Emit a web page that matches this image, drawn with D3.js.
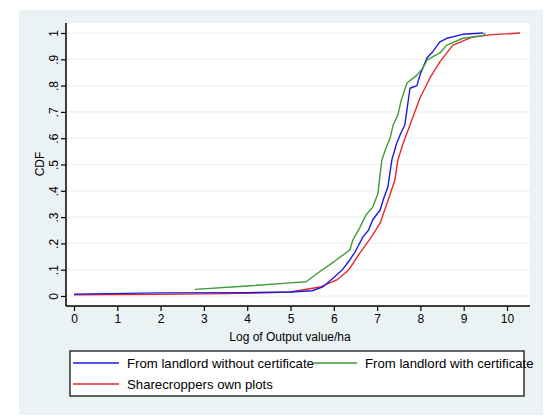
<!DOCTYPE html>
<html><head><meta charset="utf-8">
<script src="https://cdn.jsdelivr.net/npm/d3@7"></script>
<style>body{margin:0;background:#fff}svg{display:block}text{font-family:"Liberation Sans",Arial,sans-serif}</style>
</head><body><svg id="c" width="556" height="416"></svg>
<script>
const xTicks = [0,1,2,3,4,5,6,7,8,9,10];
const yTicks = [0,0.1,0.2,0.3,0.4,0.5,0.6,0.7,0.8,0.9,1];
const yTickLabels = ["0",".1",".2",".3",".4",".5",".6",".7",".8",".9","1"];
const seriesNames = ["From landlord without certificate","From landlord with certificate","Sharecroppers own plots"];
const seriesColors = ["#1c1ce0","#3f9a3a","#e8282c"];
const blueX = [0,2,4,5,5.5,5.75,6.0,6.2,6.37,6.5,6.67,6.8,6.9,7.07,7.15,7.25,7.34,7.45,7.55,7.64,7.7,7.76,7.92,7.99,8.15,8.29,8.45,8.61,8.98,9.45];
const blueP = [0.007,0.012,0.013,0.015,0.02,0.035,0.07,0.1,0.137,0.17,0.224,0.25,0.29,0.327,0.37,0.415,0.517,0.58,0.62,0.65,0.72,0.79,0.80,0.84,0.905,0.93,0.966,0.98,0.995,1.0];
const greenX = [2.79,4,5,5.36,5.68,6.0,6.37,6.44,6.6,6.75,6.9,7.02,7.06,7.11,7.2,7.3,7.37,7.48,7.55,7.69,7.92,8.06,8.15,8.45,8.61,8.98,9.45,9.5];
const greenP = [0.025,0.038,0.05,0.054,0.093,0.13,0.175,0.213,0.26,0.31,0.338,0.39,0.45,0.517,0.56,0.6,0.65,0.688,0.74,0.81,0.84,0.867,0.897,0.924,0.954,0.98,0.99,1.0];
const redX = [0,2,4,5,5.68,6.07,6.35,6.6,6.85,7.07,7.23,7.41,7.48,7.6,7.76,7.99,8.22,8.45,8.75,9.21,9.6,10.3];
const redP = [0.005,0.006,0.01,0.015,0.034,0.061,0.1,0.163,0.22,0.277,0.353,0.44,0.517,0.58,0.65,0.753,0.829,0.89,0.954,0.985,0.993,1.0];

const svg = d3.select("#c");
svg.append("rect").attr("x",19).attr("y",10).attr("width",524).attr("height",405).attr("fill","#eaf2f3");
svg.append("rect").attr("x",66).attr("y",23).attr("width",464).attr("height",283).attr("fill","#fff");

const x = d3.scaleLinear().domain([0,10]).range([74,507]);
const y = d3.scaleLinear().domain([0,1]).range([296,33]);

svg.append("g").selectAll("line").data(yTicks).join("line")
  .attr("x1",67).attr("x2",530).attr("y1",d=>y(d)).attr("y2",d=>y(d))
  .attr("stroke","#eaf2f3").attr("stroke-width",1.2);

const line = d3.line().x(d=>x(d[0])).y(d=>y(d[1]));
const series = [d3.zip(blueX,blueP), d3.zip(greenX,greenP), d3.zip(redX,redP)];
[2,0,1].forEach(i=>{
  svg.append("path").datum(series[i]).attr("d",line).attr("fill","none")
    .attr("stroke",seriesColors[i]).attr("stroke-width",1.4).attr("stroke-linejoin","round");
});

const yAxis = d3.axisLeft(y).tickValues(yTicks).tickFormat((d,i)=>yTickLabels[i]).tickSize(5).tickPadding(3);
const gy = svg.append("g").attr("transform","translate(66,0)").call(yAxis);
gy.select(".domain").attr("d","M0,23V306").attr("stroke","#000").attr("stroke-width",1.5);
gy.selectAll(".tick line").attr("stroke","#000").attr("stroke-width",1.2);
gy.selectAll(".tick text").attr("transform","rotate(-90)").attr("x",0).attr("y",-8)
  .attr("dy","0").attr("text-anchor","middle").attr("font-size",12).attr("fill","#000");

const xAxis = d3.axisBottom(x).tickValues(xTicks).tickFormat(d3.format("d")).tickSize(5).tickPadding(3);
const gx = svg.append("g").attr("transform","translate(0,306)").call(xAxis);
gx.select(".domain").attr("d","M66,0H530").attr("stroke","#000").attr("stroke-width",1.5);
gx.selectAll(".tick line").attr("stroke","#000").attr("stroke-width",1.2);
gx.selectAll(".tick text").attr("font-size",12).attr("fill","#000");

svg.append("text").attr("transform","translate(44,164) rotate(-90)").attr("text-anchor","middle")
  .attr("font-size",12).text("CDF");
svg.append("text").attr("x",290).attr("y",341).attr("text-anchor","middle").attr("font-size",12).text("Log of Output value/ha");

svg.append("rect").attr("x",70).attr("y",351).attr("width",454).attr("height",45)
  .attr("fill","#fff").attr("stroke","#000").attr("stroke-width",1.2);
const leg = [
  {i:0, x1:73, x2:119, tx:127, y:363},
  {i:1, x1:313, x2:357, tx:365, y:363},
  {i:2, x1:73, x2:119, tx:127, y:384}
];
leg.forEach(l=>{
  svg.append("line").attr("x1",l.x1).attr("x2",l.x2).attr("y1",l.y).attr("y2",l.y)
    .attr("stroke",seriesColors[l.i]).attr("stroke-width",1.4);
  svg.append("text").attr("x",l.tx).attr("y",l.y+5).attr("font-size",13.2).text(seriesNames[l.i]);
});
</script></body></html>
